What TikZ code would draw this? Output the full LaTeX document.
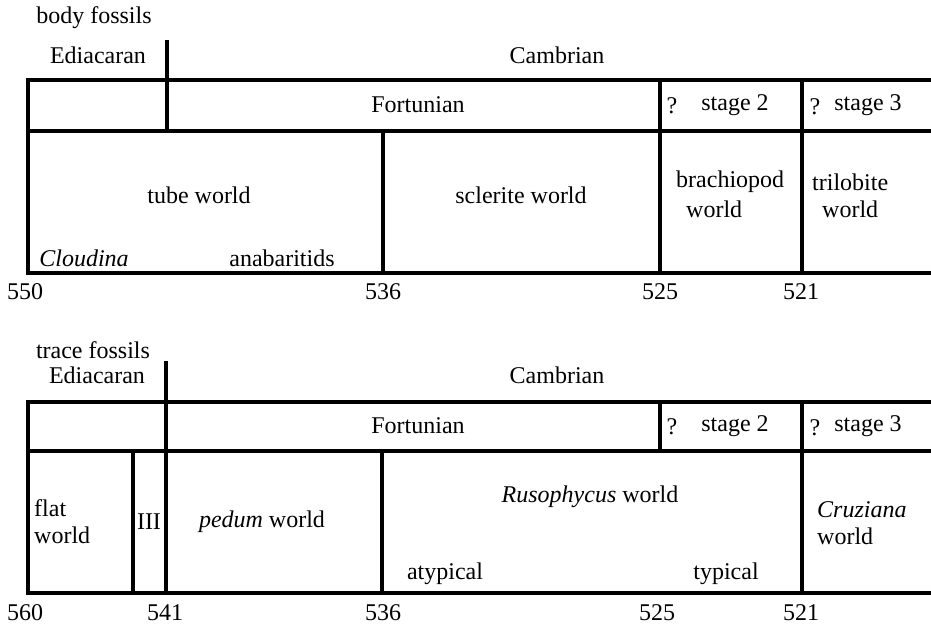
\documentclass[tikz,border=0pt]{standalone}
\usepackage{fontspec}
\setmainfont{Liberation Serif}
\begin{document}
\begin{tikzpicture}[x=1pt,y=-1pt,
  rule/.style={line width=3.3pt, line cap=rect},
  lbl/.style={font=\fontsize{24}{28}\selectfont, inner sep=0pt, anchor=center},
  lbll/.style={lbl, anchor=west}]
\useasboundingbox (0,0) rectangle (931,625);
% ---------- body fossils panel ----------
\draw[rule] (931,80) -- (28,80) -- (28,273) -- (931,273);
\draw[rule] (28,131) -- (931,131);
\draw[rule] (167,42) -- (167,131);
\draw[rule] (383,131) -- (383,273);
\draw[rule] (660,80) -- (660,273);
\draw[rule] (802,80) -- (802,273);
\node[lbl] (bf) at (94,18) {body fossils};
\node[lbl] (ediaA) at (98,55) {Ediacaran};
\node[lbl] (cambA) at (557,55) {Cambrian};
\node[lbl] (fortA) at (418,105) {Fortunian};
\node[lbl] (qA2) at (672,106) {?};
\node[lbl] (st2A) at (735,105) {stage 2};
\node[lbl] (qA3) at (815,107) {?};
\node[lbl] (st3A) at (868,105) {stage 3};
\node[lbl] (tube) at (199,195) {tube world};
\node[lbl] (cloud) at (84,258) {\itshape Cloudina};
\node[lbl] (anab) at (282,258) {anabaritids};
\node[lbl] (scler) at (521,195) {sclerite world};
\node[lbll] (brach1) at (676,182) {brachiopod};
\node[lbll] (brach2) at (686,209) {world};
\node[lbll] (tril1) at (812,182) {trilobite};
\node[lbll] (tril2) at (822,209) {world};
\node[lbl] (n550) at (25,292) {550};
\node[lbl] (n536A) at (383,292) {536};
\node[lbl] (n525A) at (660,292) {525};
\node[lbl] (n521A) at (801,292) {521};
% ---------- trace fossils panel ----------
\draw[rule] (931,402) -- (28,402) -- (28,593) -- (931,593);
\draw[rule] (28,451) -- (931,451);
\draw[rule] (166,363) -- (166,593);
\draw[rule] (133,451) -- (133,593);
\draw[rule] (382,451) -- (382,593);
\draw[rule] (660,402) -- (660,451);
\draw[rule] (802,402) -- (802,593);
\node[lbl] (tf) at (93,350) {trace fossils};
\node[lbl] (ediaB) at (97,375) {Ediacaran};
\node[lbl] (cambB) at (557,375) {Cambrian};
\node[lbl] (fortB) at (418,426) {Fortunian};
\node[lbl] (qB2) at (672,427) {?};
\node[lbl] (st2B) at (735,426) {stage 2};
\node[lbl] (qB3) at (815,428) {?};
\node[lbl] (st3B) at (868,426) {stage 3};
\node[lbll] (flat1) at (34,508) {flat};
\node[lbll] (flat2) at (34,535) {world};
\node[lbl] (three) at (149,522) {III};
\node[lbl] (pedum) at (262,522) {\itshape pedum\/\upshape{} world};
\node[lbl] (ruso) at (590,497) {\itshape Rusophycus\/\upshape{} world};
\node[lbl] (atyp) at (445,574) {atypical};
\node[lbl] (typ) at (726,574) {typical};
\node[lbll] (cruz1) at (817,510) {\itshape Cruziana};
\node[lbll] (cruz2) at (817,536) {world};
\node[lbl] (n560) at (25,613) {560};
\node[lbl] (n541) at (165,613) {541};
\node[lbl] (n536B) at (383,613) {536};
\node[lbl] (n525B) at (657,613) {525};
\node[lbl] (n521B) at (801,613) {521};
\end{tikzpicture}
\end{document}
